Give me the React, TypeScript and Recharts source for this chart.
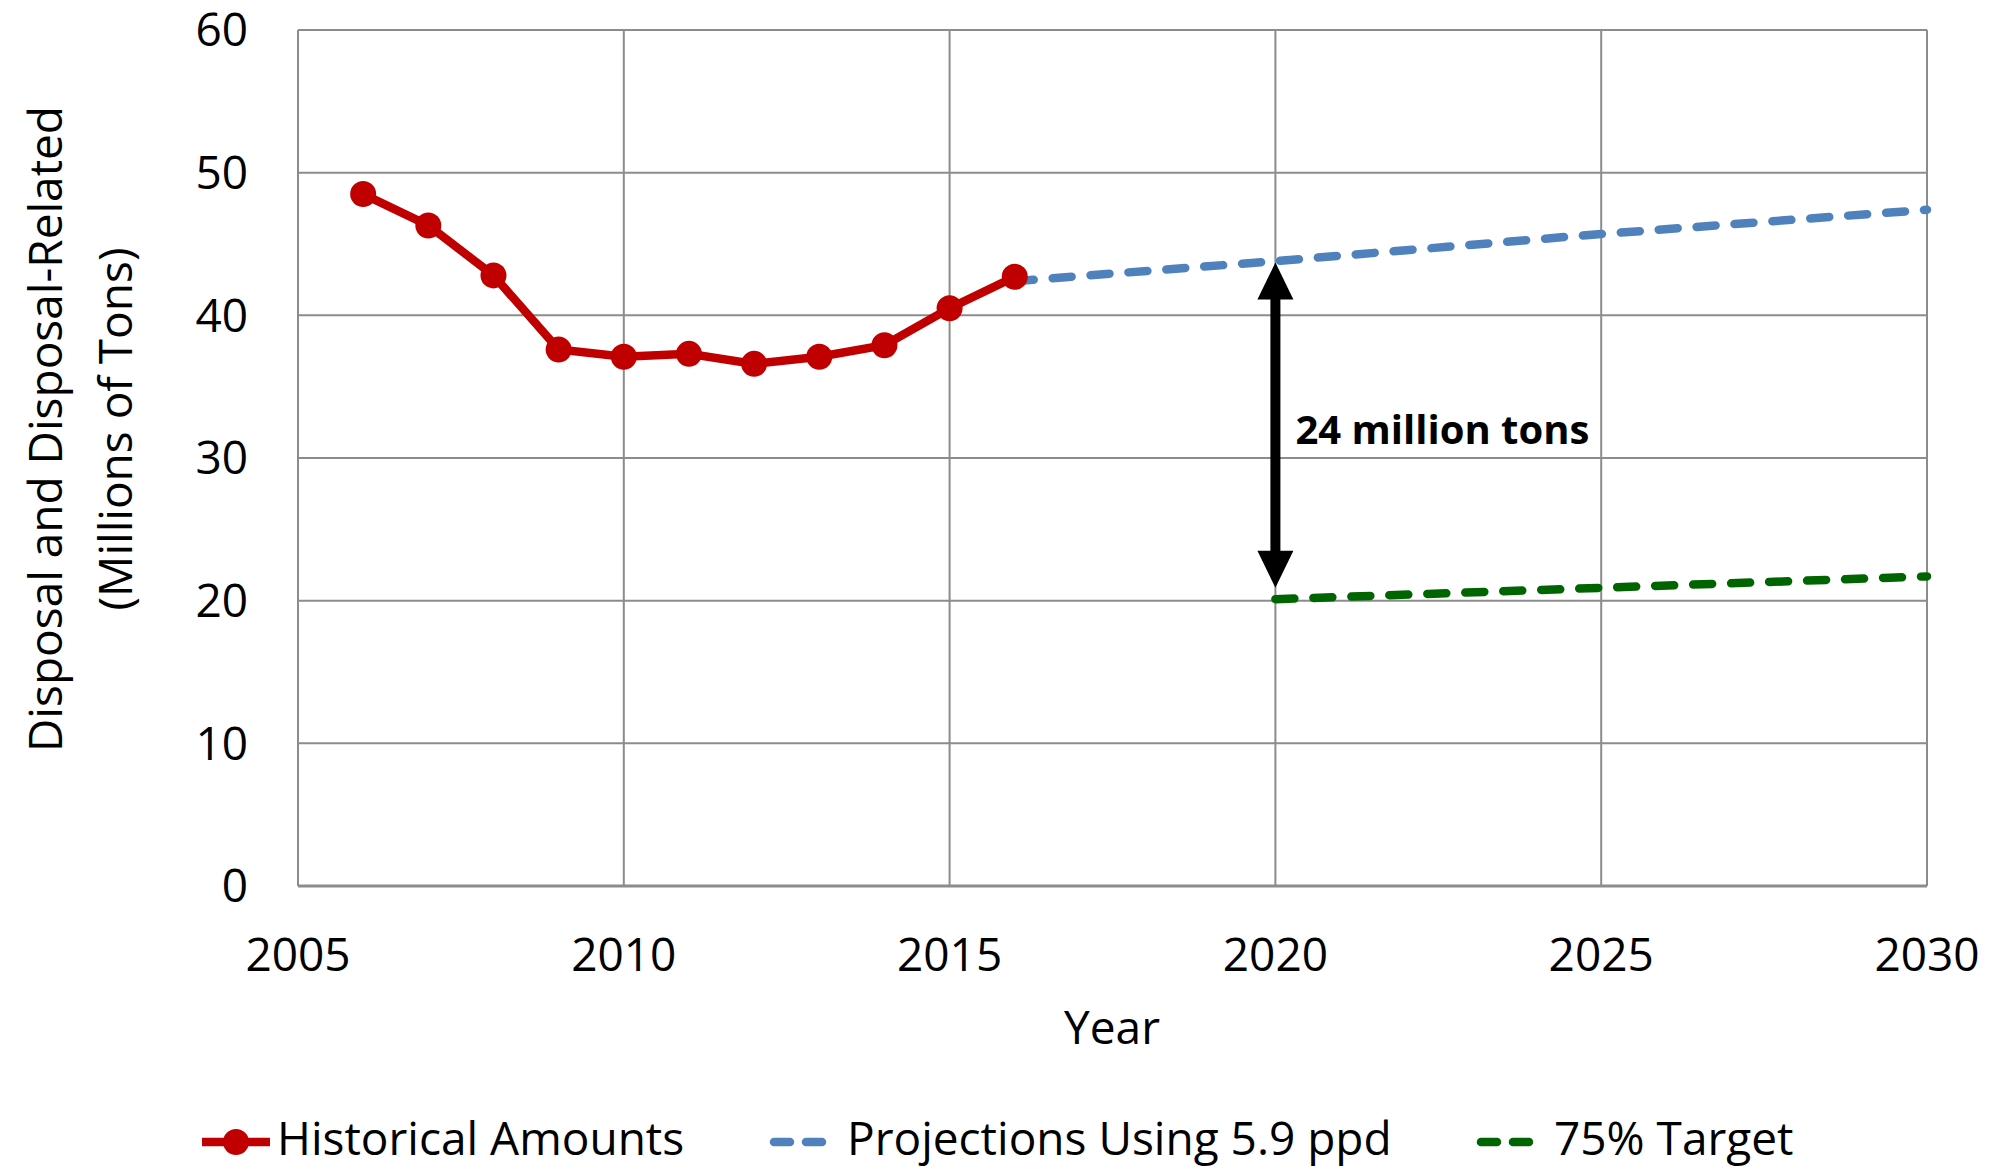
import React from 'react';
import { LineChart, Line, XAxis, YAxis, CartesianGrid, Legend, ReferenceLine } from 'recharts';

const historicalYears = [2006, 2007, 2008, 2009, 2010, 2011, 2012, 2013, 2014, 2015, 2016];
const historicalValues = [48.5, 46.3, 42.8, 37.6, 37.1, 37.3, 36.6, 37.1, 37.9, 40.5, 42.7];

const projectionYears = [2016, 2020, 2025, 2030];
const projectionValues = [42.4, 43.8, 45.7, 47.4];

const targetYears = [2020, 2025, 2030];
const targetValues = [20.1, 20.9, 21.7];

const xTicks = [2005, 2010, 2015, 2020, 2025, 2030];
const yTicks = [0, 10, 20, 30, 40, 50, 60];

const gapTop = 43.7;
const gapBottom = 20.9;
const gapYear = 2020;
const gapLabel = '24 million tons';

const seriesNames = ['Historical Amounts', 'Projections Using 5.9 ppd', '75% Target'];

const historical = historicalYears.map((year, i) => ({ year, value: historicalValues[i] }));
const projection = projectionYears.map((year, i) => ({ year, value: projectionValues[i] }));
const target = targetYears.map((year, i) => ({ year, value: targetValues[i] }));

const FONT = '"Open Sans", sans-serif';
const RED = '#C00000';
const BLUE = '#4F81BD';
const GREEN = '#006400';
const GRID = '#8c8c8c';
const LW = 8.5;

const ArrowShape = (props: any) => {
  const { x1, y1, x2, y2 } = props;
  if (x1 == null || y1 == null) return null;
  const top = Math.min(y1, y2);
  const bot = Math.max(y1, y2);
  const x = x1;
  const hh = 37;
  const hw = 18;
  const mid = (top + bot) / 2;
  return (
    <g>
      <line x1={x} y1={top + hh - 2} x2={x} y2={bot - hh + 2} stroke="#000" strokeWidth={10} />
      <polygon points={`${x},${top} ${x - hw},${top + hh} ${x + hw},${top + hh}`} fill="#000" />
      <polygon points={`${x},${bot} ${x - hw},${bot - hh} ${x + hw},${bot - hh}`} fill="#000" />
      <text x={x + 20} y={mid + 3} fontFamily={FONT} fontWeight={700} fontSize={40} fill="#000" dominantBaseline="central">
        {gapLabel}
      </text>
    </g>
  );
};

const legendItems = [
  { name: seriesNames[0], color: RED, dashed: false, iconX: 200, textX: 277 },
  { name: seriesNames[1], color: BLUE, dashed: true, iconX: 768, textX: 847 },
  { name: seriesNames[2], color: GREEN, dashed: true, iconX: 1475, textX: 1554 },
];

const CustomLegend = () => (
  <div style={{ position: 'relative', height: 57, width: 1994, fontFamily: FONT, fontSize: 46, color: '#000' }}>
    {legendItems.map((it) => (
      <React.Fragment key={it.name}>
        <svg style={{ position: 'absolute', left: it.iconX, top: 18 }} width={72} height={30}>
          {it.dashed ? (
            <line x1={6} y1={14} x2={66} y2={14} stroke={it.color} strokeWidth={LW} strokeDasharray="16 16" strokeLinecap="round" />
          ) : (
            <>
              <line x1={2} y1={14} x2={70} y2={14} stroke={it.color} strokeWidth={LW} />
              <circle cx={36} cy={14} r={13} fill={it.color} />
            </>
          )}
        </svg>
        <span style={{ position: 'absolute', left: it.textX, top: -4, lineHeight: '62px', whiteSpace: 'nowrap' }}>{it.name}</span>
      </React.Fragment>
    ))}
  </div>
);

const YLabel = () => (
  <g fontFamily={FONT} fontSize={46} fill="#000">
    <text x={44} y={429} textAnchor="middle" dominantBaseline="central" transform="rotate(-90 44 429)">
      Disposal and Disposal-Related
    </text>
    <text x={114} y={429} textAnchor="middle" dominantBaseline="central" transform="rotate(-90 114 429)">
      (Millions of Tons)
    </text>
  </g>
);

const XLabel = () => (
  <text x={1112} y={1026} textAnchor="middle" dominantBaseline="central" fontFamily={FONT} fontSize={46} fill="#000">
    Year
  </text>
);

export default function App() {
  return (
    <div style={{ position: 'absolute', left: 0, top: 0, background: '#fff' }}>
      <LineChart
        width={1994}
        height={1167}
        margin={{ top: 30, right: 67, left: 0, bottom: 0 }}
        style={{ fontFamily: FONT }}
      >
        <CartesianGrid stroke={GRID} strokeWidth={2} />
        <XAxis
          dataKey="year"
          type="number"
          domain={[2005, 2030]}
          ticks={xTicks}
          allowDuplicatedCategory={false}
          height={224}
          tickSize={0}
          tickMargin={52}
          axisLine={{ stroke: GRID, strokeWidth: 3 }}
          tickLine={false}
          tick={{ fontSize: 46, fill: '#000', fontFamily: FONT }}
          label={<XLabel />}
        />
        <YAxis
          dataKey="value"
          type="number"
          domain={[0, 60]}
          ticks={yTicks}
          width={298}
          tickSize={0}
          tickMargin={50}
          axisLine={false}
          tickLine={false}
          tick={{ fontSize: 46, fill: '#000', fontFamily: FONT }}
          label={<YLabel />}
        />
        <Legend verticalAlign="bottom" height={57} content={<CustomLegend />} />
        <Line
          data={historical}
          dataKey="value"
          name={seriesNames[0]}
          stroke={RED}
          strokeWidth={LW}
          dot={{ r: 13, fill: RED, stroke: RED, strokeWidth: 0 }}
          activeDot={false}
          isAnimationActive={false}
        />
        <Line
          data={projection}
          dataKey="value"
          name={seriesNames[1]}
          stroke={BLUE}
          strokeWidth={LW}
          strokeDasharray="19 19"
          strokeLinecap="round"
          dot={false}
          activeDot={false}
          isAnimationActive={false}
        />
        <Line
          data={target}
          dataKey="value"
          name={seriesNames[2]}
          stroke={GREEN}
          strokeWidth={LW}
          strokeDasharray="19 19"
          strokeLinecap="round"
          dot={false}
          activeDot={false}
          isAnimationActive={false}
        />
        <ReferenceLine
          segment={[
            { x: gapYear, y: gapTop },
            { x: gapYear, y: gapBottom },
          ]}
          shape={<ArrowShape />}
        />
      </LineChart>
    </div>
  );
}
